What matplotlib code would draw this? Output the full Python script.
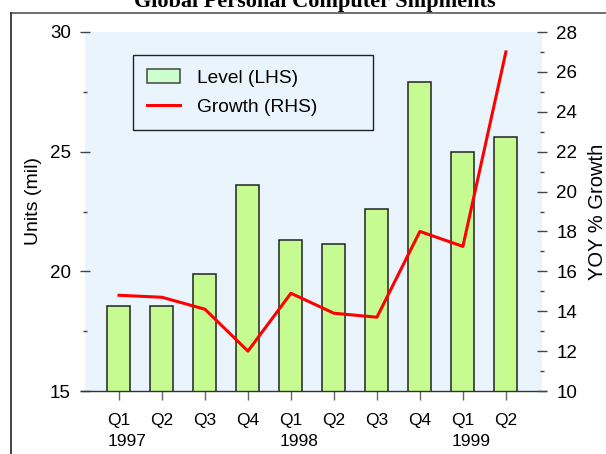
import matplotlib
matplotlib.use("Agg")
import matplotlib.pyplot as plt
import matplotlib.transforms as mtransforms
from matplotlib.lines import Line2D
from matplotlib.ticker import MultipleLocator

quarters = ["Q1", "Q2", "Q3", "Q4", "Q1", "Q2", "Q3", "Q4", "Q1", "Q2"]
years = ["1997", "1998", "1999"]
year_start = [0, 4, 8]  # index of the Q1 that carries the year label
level = [18.55, 18.55, 19.9, 23.6, 21.3, 21.15, 22.6, 27.9, 25.0, 25.6]
growth = [14.8, 14.7, 14.1, 12.0, 14.9, 13.9, 13.7, 18.0, 17.25, 27.0]

plt.rcParams['font.family'] = ['Liberation Sans', 'DejaVu Sans']

fig = plt.figure(figsize=(6.06, 4.54), dpi=100)
ax = fig.add_axes([85/606, 1 - 391/454, 457/606, 359/454])
ax.set_facecolor("#eaf4fd")
x = list(range(len(level)))

bars = ax.bar(x, level, width=0.535, bottom=0, color="#c6fb92",
              edgecolor="#222222", linewidth=1.1, zorder=2)
ax.set_xlim(-0.79, 9.84)
ax.set_ylim(15, 30)
ax.yaxis.set_major_locator(MultipleLocator(5))
ax.yaxis.set_minor_locator(MultipleLocator(2.5))

ax2 = ax.twinx()
line, = ax2.plot(x, growth, color="red", linewidth=2.2, zorder=3)
ax2.set_ylim(10, 28)
ax2.yaxis.set_major_locator(MultipleLocator(2))
ax2.yaxis.set_minor_locator(MultipleLocator(1))

for a in (ax, ax2):
    for s in a.spines.values():
        s.set_visible(False)

ax.tick_params(axis='y', which='major', direction='inout', length=6.5, width=1,
               color='#444444', labelsize=13.5, pad=7)
ax.tick_params(axis='y', which='minor', direction='inout', length=3, width=1,
               color='#444444')
ax2.tick_params(axis='y', which='major', direction='inout', length=6.5, width=1,
                color='#444444', labelsize=13.5, pad=7)
ax2.tick_params(axis='y', which='minor', direction='inout', length=3, width=1,
                color='#444444')
ax.set_xticks(x)
ax.set_xticklabels(quarters)
ax.tick_params(axis='x', direction='out', length=6.5, width=1, color='#666666',
               labelsize=12.5, pad=9)

# bottom axis line, a bit wider than the plot region
ax.plot([-4/457, 1 + 4/457], [0, 0], transform=ax.transAxes, color='#333333',
        linewidth=1, clip_on=False, zorder=4)

# year labels, left aligned with the Q1 label
offset = mtransforms.ScaledTranslation(-11/100, 0, fig.dpi_scale_trans)
trans = mtransforms.blended_transform_factory(ax.transData, ax.transAxes) + offset
for yr, i in zip(years, year_start):
    ax.text(i, -51/359, yr, transform=trans, ha='left', va='center', fontsize=12.5)

ax.set_ylabel("Units (mil)", fontsize=14)
ax.yaxis.set_label_coords(-43/457, 0.53)
ax2.set_ylabel("YOY % Growth", fontsize=14.5)
ax2.yaxis.set_label_coords(1 + 46/457, 0.5)

leg_top = 1 - 23/359
leg = ax.legend([bars, line], ["Level (LHS)", "Growth (RHS)"],
                loc='upper left', bbox_to_anchor=(48/457, leg_top - 0.1, 240/457, 0.1),
                mode='expand', borderaxespad=0, fancybox=False, frameon=True,
                edgecolor='#222222', facecolor='#eaf4fd', framealpha=1,
                fontsize=13.8, handlelength=1.7, handletextpad=0.9,
                labelspacing=0.6, borderpad=0.75)
leg.get_frame().set_linewidth(1)
leg.legend_handles[0].set_facecolor("#ccffcc")
leg.legend_handles[0].set_edgecolor("#444444")

fig.text(0.52, 1 - 7/454, "Global Personal Computer Shipments", ha='center',
         va='baseline', fontsize=16, fontweight='bold', family='Liberation Serif')

# outer frame
fig.add_artist(Line2D([11/606, 1], [1 - 13/454, 1 - 13/454],
                      transform=fig.transFigure, color='#555555', linewidth=1.2))
fig.add_artist(Line2D([11/606, 11/606], [0, 1 - 13/454],
                      transform=fig.transFigure, color='#222222', linewidth=1.2))

fig.savefig("out.png", dpi=100)
